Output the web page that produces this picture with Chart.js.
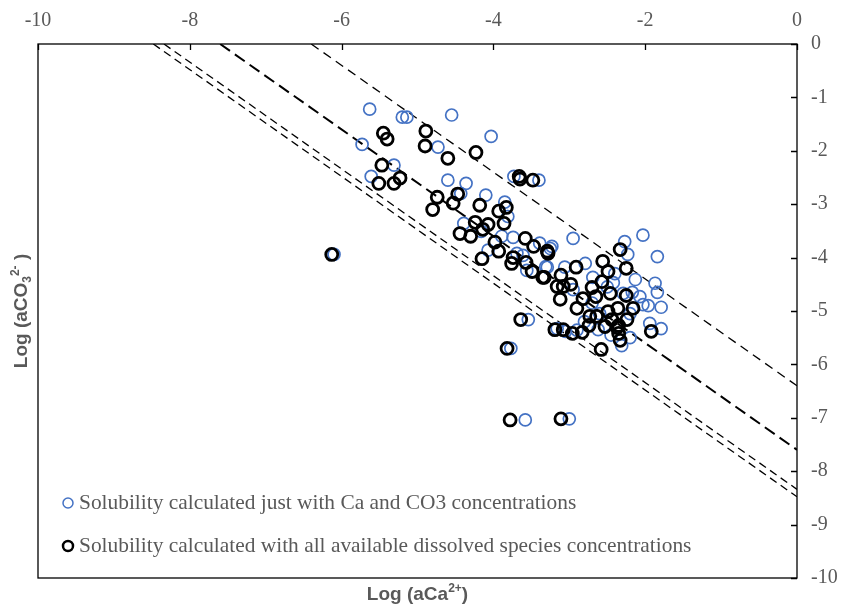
<!DOCTYPE html>
<html>
<head>
<meta charset="utf-8">
<script src="https://cdn.jsdelivr.net/npm/chart.js@4.4.1/dist/chart.umd.min.js"></script>
<style>
  html, body { margin: 0; padding: 0; background: #fff; }
  #wrap { position: relative; width: 845px; height: 607px; }
</style>
</head>
<body>
<div id="wrap"><canvas id="chart"></canvas></div>
<script>
// log(aCa2+) / log(aCO3 2-) pairs, all dissolved species
const allX = [-5.45,-5.40,-4.89,-4.90,-4.60,-4.23,-5.47,-5.51,-5.31,-5.23,
  -4.74,-4.47,-4.53,-4.80,-4.18,-3.93,-3.83,-4.24,-4.07,-3.86,
  -4.44,-4.30,-4.14,-3.98,-3.93,-4.15,-3.74,-3.76,-3.58,-3.47,
  -3.29,-3.57,-3.49,-3.35,-3.16,-3.66,-3.48,-3.65,-6.13,-3.64,
  -3.82,-3.78,-3.11,-3.28,-3.11,-3.08,-2.98,-2.91,-2.70,-2.57,
  -2.56,-2.49,-2.33,-2.25,-3.12,-2.90,-2.82,-2.65,-2.46,-2.25,
  -2.73,-2.74,-2.53,-2.35,-2.49,-2.36,-2.16,-2.24,-2.35,-2.33,
  -3.19,-3.08,-2.96,-2.83,-1.92,-2.58,-2.64,-3.33,-2.44,-2.37];
const allY = [-1.67,-1.78,-1.63,-1.91,-2.14,-2.03,-2.27,-2.61,-2.61,-2.51,
  -2.87,-2.81,-2.98,-3.10,-3.02,-3.13,-3.06,-3.34,-3.38,-3.36,
  -3.55,-3.60,-3.47,-3.71,-3.88,-4.02,-4.00,-4.11,-3.64,-3.79,
  -3.88,-4.09,-4.26,-4.37,-4.54,-2.48,-2.55,-2.53,-3.94,-5.16,
  -5.70,-7.04,-7.02,-3.92,-4.33,-4.54,-4.50,-4.18,-4.56,-4.45,
  -4.07,-4.26,-3.85,-4.20,-4.78,-4.95,-4.77,-4.73,-4.67,-4.71,
  -5.10,-5.27,-5.29,-5.27,-5.01,-4.95,-4.95,-5.16,-5.42,-5.55,
  -5.35,-5.35,-5.42,-5.40,-5.38,-5.72,-5.10,-4.37,-5.16,-5.31];

// same samples, Ca and CO3 concentrations only
const caX = [-5.63,-5.20,-5.14,-4.55,-4.03,-5.73,-4.73,-5.31,-5.61,-4.60,
  -4.36,-4.10,-3.73,-3.85,-4.43,-3.40,-3.81,-4.39,-4.16,-4.07,
  -3.89,-3.74,-3.39,-3.23,-3.61,-3.31,-3.56,-3.54,-3.77,-3.58,
  -3.00,-2.95,-2.27,-2.03,-1.84,-2.23,-2.79,-3.06,-2.69,-2.42,
  -2.13,-1.87,-1.84,-2.07,-1.96,-1.79,-1.94,-1.79,-2.31,-2.62,
  -2.20,-2.29,-2.17,-2.03,-3.29,-3.25,-3.69,-6.10,-3.16,-3.05,
  -2.90,-2.60,-2.45,-2.70,-2.95,-2.40,-2.50,-2.20,-2.80];
const caY = [-1.22,-1.37,-1.37,-1.33,-1.73,-1.88,-1.93,-2.27,-2.48,-2.55,
  -2.61,-2.83,-2.48,-2.96,-2.80,-2.55,-3.23,-3.36,-3.51,-3.86,
  -3.60,-3.62,-3.73,-3.79,-3.96,-4.17,-4.24,-5.16,-5.70,-7.04,
  -7.02,-3.64,-3.70,-3.58,-3.98,-3.94,-4.11,-4.18,-4.37,-4.47,
  -4.41,-4.48,-4.65,-4.73,-4.90,-4.93,-5.23,-5.33,-5.65,-5.35,
  -5.50,-4.67,-4.65,-4.88,-4.18,-3.83,-3.92,-3.94,-5.33,-5.38,
  -5.36,-5.05,-5.45,-4.85,-4.60,-4.30,-4.55,-5.05,-5.20];

// solubility lines log K (aCa * aCO3 = K)
const logK      = [-6.4, -7.6, -8.34, -8.48];
const lineDash  = [[9, 6], [12, 6], [8, 5], [8, 5]];
const lineWidth = [1.3, 2, 1.3, 1.3];

const legendLabels = [
  'Solubility calculated just with Ca and CO3 concentrations',
  'Solubility calculated with all available dissolved species concentrations',
];

const BLUE = '#4472C4';
const GREY = '#595959';
const SERIF = '"Liberation Serif", "Times New Roman", serif';
const SANS = '"Liberation Sans", Arial, sans-serif';

const toPts = (xs, ys) => xs.map((x, i) => ({ x, y: ys[i] }));

// frame, inward tick marks, axis titles, legend
const decor = {
  id: 'decor',
  afterDraw(chart) {
    const { ctx, chartArea: a, scales: { x, y } } = chart;
    ctx.save();
    ctx.strokeStyle = '#000';
    ctx.lineWidth = 1.3;
    ctx.strokeRect(a.left, a.top, a.right - a.left, a.bottom - a.top);
    ctx.beginPath();
    x.ticks.forEach(t => {
      const px = Math.round(x.getPixelForValue(t.value)) + 0.5;
      ctx.moveTo(px, a.top); ctx.lineTo(px, a.top + 6);
    });
    y.ticks.forEach(t => {
      const py = Math.round(y.getPixelForValue(t.value)) + 0.5;
      ctx.moveTo(a.right, py); ctx.lineTo(a.right - 6, py);
    });
    ctx.stroke();

    // axis titles
    ctx.fillStyle = GREY;
    ctx.textBaseline = 'alphabetic';
    const pieces = (parts, cx, cy) => {
      let w = 0;
      parts.forEach(p => { ctx.font = p.f; w += ctx.measureText(p.t).width; });
      let px = cx - w / 2;
      parts.forEach(p => {
        ctx.font = p.f;
        ctx.fillText(p.t, px, cy + (p.dy || 0));
        px += ctx.measureText(p.t).width;
      });
    };
    const big = 'bold 19px ' + SANS, small = 'bold 12px ' + SANS;
    pieces([{ t: 'Log (aCa', f: big }, { t: '2+', f: small, dy: -8 }, { t: ')', f: big }],
      (a.left + a.right) / 2, 600);
    ctx.save();
    ctx.translate(27, (a.top + a.bottom) / 2);
    ctx.rotate(-Math.PI / 2);
    pieces([{ t: 'Log (aCO', f: big }, { t: '3', f: small, dy: 4 },
      { t: '2-', f: small, dy: -8 }, { t: ' )', f: big }], 0, 0);
    ctx.restore();

    // legend inside plot area
    const items = [
      { c: BLUE, w: 1.5, label: legendLabels[0], cy: 503 },
      { c: '#000', w: 2.5, label: legendLabels[1], cy: 546 },
    ];
    ctx.font = '21.4px ' + SERIF;
    ctx.textBaseline = 'middle';
    items.forEach(it => {
      ctx.beginPath();
      ctx.lineWidth = it.w;
      ctx.strokeStyle = it.c;
      ctx.arc(68, it.cy, 5, 0, Math.PI * 2);
      ctx.stroke();
      ctx.fillStyle = GREY;
      ctx.fillText(it.label, 79, it.cy);
    });
    ctx.restore();
  },
};

const lineSets = logK.map((k, i) => ({
  type: 'line',
  label: 'log K ' + k,
  data: [{ x: k, y: 0 }, { x: 0, y: k }],
  borderColor: '#000',
  borderWidth: lineWidth[i],
  borderDash: lineDash[i],
  pointRadius: 0,
  fill: false,
}));

new Chart(document.getElementById('chart'), {
  type: 'scatter',
  data: {
    datasets: [
      { label: legendLabels[1], data: toPts(allX, allY), borderColor: '#000',
        backgroundColor: 'rgba(0,0,0,0)', borderWidth: 2.8, pointRadius: 6 },
      { label: legendLabels[0], data: toPts(caX, caY), borderColor: BLUE,
        backgroundColor: 'rgba(0,0,0,0)', borderWidth: 1.7, pointRadius: 6 },
      ...lineSets,
    ],
  },
  options: {
    responsive: true,
    maintainAspectRatio: false,
    animation: false,
    layout: { padding: { left: 38, bottom: 29, top: 0, right: 0 } },
    plugins: { legend: { display: false }, tooltip: { enabled: false } },
    scales: {
      x: {
        type: 'linear',
        position: 'top',
        min: -10, max: 0,
        ticks: { stepSize: 2, color: GREY, padding: 11, font: { family: SERIF, size: 20 } },
        grid: { display: false, drawTicks: false },
        border: { display: false },
        afterFit: s => { s.height = 44; },
      },
      y: {
        type: 'linear',
        position: 'right',
        min: -10, max: 0,
        ticks: { stepSize: 1, color: GREY, padding: 14, font: { family: SERIF, size: 20 } },
        grid: { display: false, drawTicks: false },
        border: { display: false },
        afterFit: s => { s.width = 48; },
      },
    },
  },
  plugins: [decor],
});
</script>
</body>
</html>
